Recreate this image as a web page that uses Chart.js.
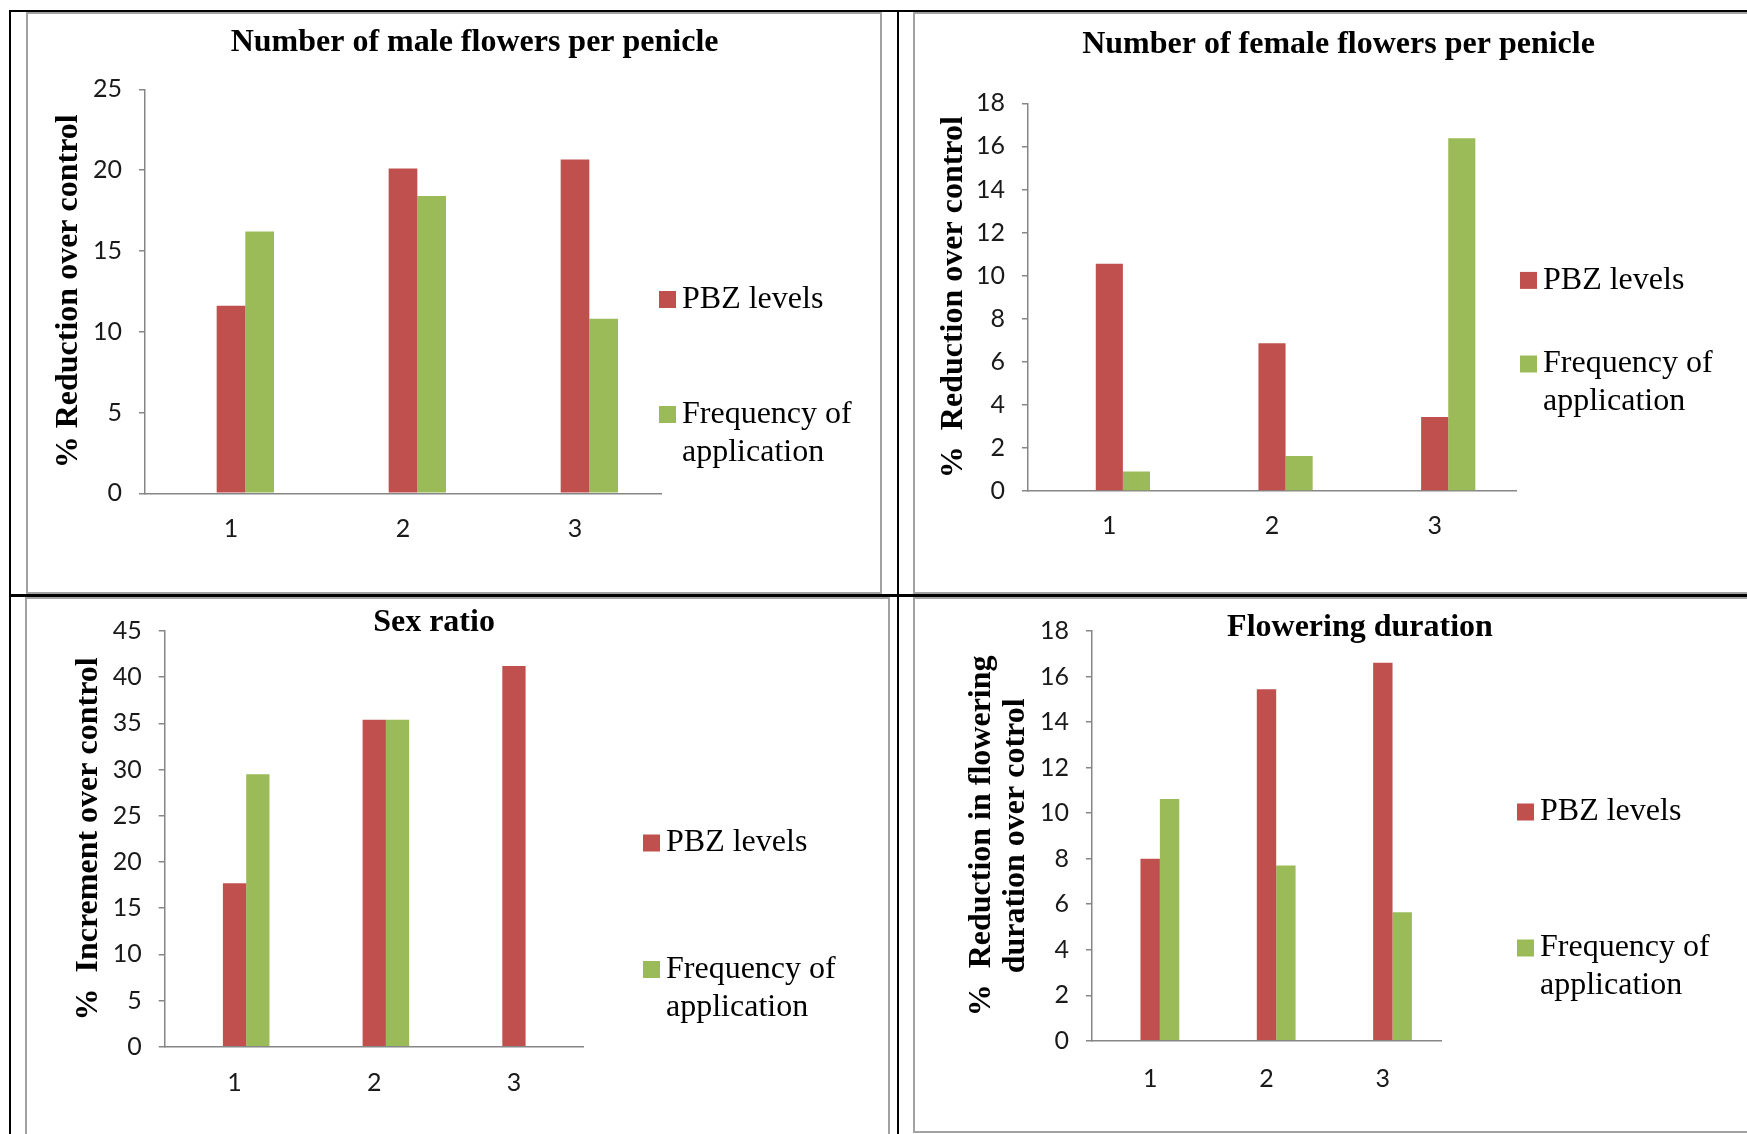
<!DOCTYPE html>
<html>
<head>
<meta charset="utf-8">
<script src="https://cdn.jsdelivr.net/npm/chart.js@4.4.1/dist/chart.umd.min.js"></script>
<style>
  body { margin: 0; width: 1747px; height: 1134px; background: #fff; position: relative; overflow: hidden; }
  .rule { position: absolute; background: #000; }
  .box { position: absolute; border: 2px solid #a2a2a2; box-sizing: border-box; }
  canvas { position: absolute; }
</style>
</head>
<body>
<!-- table lines -->
<div class="rule" style="left:9px; top:10px; width:1738px; height:2px;"></div>
<div class="rule" style="left:9px; top:10px; width:2px; height:1124px;"></div>
<div class="rule" style="left:897px; top:10px; width:2px; height:1124px;"></div>
<div class="rule" style="left:9px; top:594px; width:1738px; height:3px;"></div>

<!-- chart frames -->
<div class="box" style="left:26px; top:12px; width:856px; height:582px;"></div>
<div class="box" style="left:913px; top:12px; width:900px; height:582px;"></div>
<div class="box" style="left:25px; top:597px; width:865px; height:600px;"></div>
<div class="box" style="left:913px; top:597px; width:900px; height:536px;"></div>

<canvas id="c1" width="852" height="578" style="left:28px; top:14px;"></canvas>
<canvas id="c2" width="832" height="578" style="left:915px; top:14px;"></canvas>
<canvas id="c3" width="860" height="535" style="left:28px; top:599px;"></canvas>
<canvas id="c4" width="832" height="531" style="left:915px; top:599px;"></canvas>

<script>
// categorias y series
const categories = ['1', '2', '3'];
const seriesNames = ['PBZ levels', 'Frequency of\napplication'];

// Number of male flowers per penicle
const malePBZ = [11.6, 20.1, 20.65];
const maleFreq = [16.2, 18.4, 10.8];
const maleTicks = [0, 5, 10, 15, 20, 25];

// Number of female flowers per penicle
const femalePBZ = [10.55, 6.86, 3.43];
const femaleFreq = [0.9, 1.62, 16.38];
const femaleTicks = [0, 2, 4, 6, 8, 10, 12, 14, 16, 18];

// Sex ratio
const sexPBZ = [17.7, 35.4, 41.2];
const sexFreq = [29.5, 35.4, null];
const sexTicks = [0, 5, 10, 15, 20, 25, 30, 35, 40, 45];

// Flowering duration
const durPBZ = [8.0, 15.44, 16.61];
const durFreq = [10.62, 7.7, 5.65];
const durTicks = [0, 2, 4, 6, 8, 10, 12, 14, 16, 18];

const RED = '#C0504D';
const GREEN = '#9BBB59';
const AXIS = '#868686';
const TICK_FONT = { family: 'Lato, "Open Sans", sans-serif', size: 25 };
const SERIF = '"Liberation Serif", "Times New Roman", serif';

// titulo y leyenda dibujados sobre el canvas
const panelDecor = {
    id: 'panelDecor',
    afterDraw(chart, args, opts) {
        const ctx = chart.ctx;
        ctx.save();
        ctx.fillStyle = '#000';
        ctx.textAlign = 'center';
        ctx.textBaseline = 'alphabetic';
        ctx.font = 'bold 32px ' + SERIF;
        ctx.fillText(opts.title, opts.titleX, opts.titleY);

        ctx.textAlign = 'left';
        ctx.textBaseline = 'middle';
        ctx.font = '32px ' + SERIF;
        let k = 0;
        chart.data.datasets.forEach(ds => {
            if (ds.spacer) return;
            const y = opts.legendY[k++];
            ctx.fillStyle = ds.backgroundColor;
            ctx.fillRect(opts.legendX, y - 8.5, 17, 17);
            ctx.fillStyle = '#000';
            ds.label.split('\n').forEach((line, i) => {
                ctx.fillText(line, opts.legendX + 23, y + i * 38);
            });
        });
        ctx.restore();
    }
};

function makeChart(id, pbz, freq, ticks, title, yTitle, lay) {
    new Chart(document.getElementById(id), {
        type: 'bar',
        data: {
            labels: categories,
            datasets: [
                // hueco vacio: Excel deja la barra roja centrada en la categoria
                { label: '', data: [null, null, null], spacer: true },
                { label: seriesNames[0], data: pbz, backgroundColor: RED },
                { label: seriesNames[1], data: freq, backgroundColor: GREEN }
            ]
        },
        options: {
            responsive: false,
            animation: false,
            layout: { padding: { left: 0, top: lay.top, right: lay.right, bottom: 0 } },
            datasets: { bar: { categoryPercentage: 0.5, barPercentage: 1 } },
            plugins: {
                legend: { display: false },
                tooltip: { enabled: false },
                panelDecor: {
                    title: title,
                    titleX: lay.titleX,
                    titleY: lay.titleY,
                    legendX: lay.legendX,
                    legendY: lay.legendY
                }
            },
            scales: {
                x: {
                    grid: { display: false },
                    border: { display: true, color: AXIS, width: 1.5 },
                    ticks: { font: TICK_FONT, color: '#1a1a1a', padding: lay.xPad },
                    afterFit: s => { s.height = lay.xH; }
                },
                y: {
                    min: ticks[0],
                    max: ticks[ticks.length - 1],
                    ticks: { stepSize: ticks[1] - ticks[0], font: TICK_FONT, color: '#1a1a1a', padding: 17 },
                    grid: { drawOnChartArea: false, drawTicks: true, tickLength: 6, color: AXIS, lineWidth: 1.5 },
                    border: { display: true, color: AXIS, width: 1.5 },
                    title: {
                        display: true,
                        text: yTitle,
                        color: '#000',
                        font: { family: SERIF, size: 32, weight: 'bold', lineHeight: 1.05 },
                        padding: { top: lay.yTitlePad, bottom: 0 }
                    },
                    afterFit: s => { s.width = lay.yW; }
                }
            }
        },
        plugins: [panelDecor]
    });
}

makeChart('c1', malePBZ, maleFreq, maleTicks,
    'Number of male flowers per penicle', '% Reduction over control',
    { top: 75.3, right: 219, yW: 117, xH: 98.7, yTitlePad: 24.2, xPad: 13,
      titleX: 446.6, titleY: 37, legendX: 631, legendY: [285.5, 400.5] });

makeChart('c2', femalePBZ, femaleFreq, femaleTicks,
    'Number of female flowers per penicle', '%  Reduction over control',
    { top: 89.3, right: 231, yW: 113, xH: 101, yTitlePad: 21.7, xPad: 12,
      titleX: 423.5, titleY: 39, legendX: 605, legendY: [266.4, 350] });

makeChart('c3', sexPBZ, sexFreq, sexTicks,
    'Sex ratio', '%  Increment over control',
    { top: 30.5, right: 304.2, yW: 136.7, xH: 87.2, yTitlePad: 44.2, xPad: 13.5,
      titleX: 406, titleY: 32, legendX: 615, legendY: [244, 370.5] });

makeChart('c4', durPBZ, durFreq, durTicks,
    'Flowering duration', ['%  Reduction in flowering', 'duration over cotrol'],
    { top: 29.8, right: 306, yW: 177, xH: 89.2, yTitlePad: 50.2, xPad: 15,
      titleX: 445, titleY: 37, legendX: 602, legendY: [213, 349] });
</script>
</body>
</html>
